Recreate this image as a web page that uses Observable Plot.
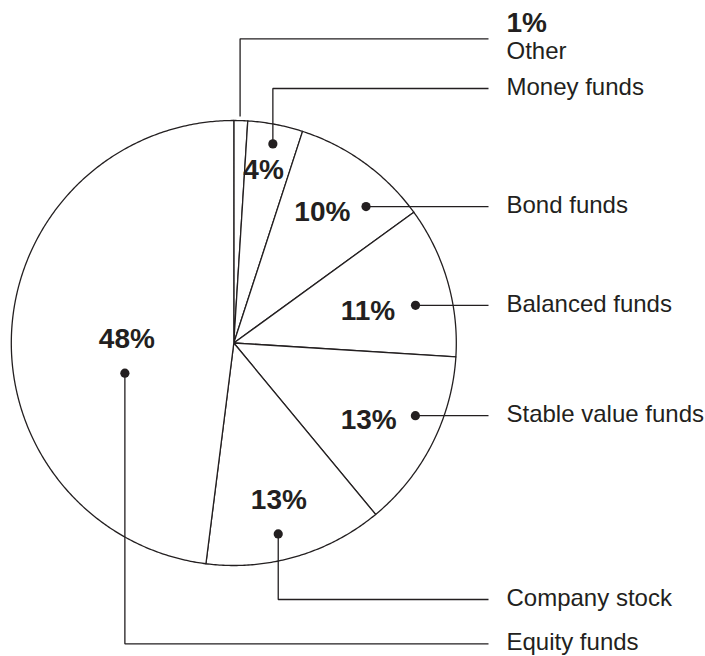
<!DOCTYPE html>
<html>
<head>
<meta charset="utf-8">
<script src="https://cdn.jsdelivr.net/npm/d3@7"></script>
<script src="https://cdn.jsdelivr.net/npm/@observablehq/plot@0.6"></script>
<style>
  html, body { margin: 0; padding: 0; background: #fff; }
  #chart svg { display: block; }
</style>
</head>
<body>
<div id="chart"></div>
<script>
// ---------- data ----------
const categories = ["Other", "Money funds", "Bond funds", "Balanced funds", "Stable value funds", "Company stock", "Equity funds"];
const shares = [1, 4, 10, 11, 13, 13, 48];
const shareLabels = ["1%", "4%", "10%", "11%", "13%", "13%", "48%"];

// ---------- layout (annotation placement, not data) ----------
const INK = "#231f20";
const W = 705, H = 656;
const R = 222.5, CX = 233.3, CY = 342.5;           // pie centre & radius in pixels
const toX = p => (p - CX) / R;                      // pixel -> pie units
const toY = p => (CY - p) / R;
// percentage label placement [angle°, radius fraction] (null = outside)
const labelPolar = [null, [9.8, 0.787], [34.1, 0.71], [76.4, 0.62], [119.6, 0.697], [164, 0.735], [272, 0.481]];
// leader dot placement [angle°, radius fraction]
const dotPolar = [null, [11.1, 0.912], [44.1, 0.854], [78.3, 0.834], [111.8, 0.879], [166.9, 0.881], [254.5, 0.508]];
// text rows (pixel y) for labels whose leader bends; null = same row as the dot
const rowPx = [38.3, 88, null, null, null, 599, 643.3];
const leaderEndX = toX(488), textX = toX(506);

const rad = d => d * Math.PI / 180;
const polar = (a, r) => ({x: r * Math.sin(a), y: r * Math.cos(a)});

// ---------- pie geometry ----------
const arcs = d3.pie().sort(null).value(d => d)(shares);
const slicePts = [];
arcs.forEach((a, i) => {
  slicePts.push({key: categories[i], x: 0, y: 0});
  const n = Math.max(2, Math.ceil((a.endAngle - a.startAngle) / rad(0.5)));
  for (let k = 0; k <= n; k++) {
    const t = a.startAngle + (a.endAngle - a.startAngle) * k / n;
    slicePts.push({key: categories[i], ...polar(t, 1)});
  }
});

// ---------- annotations ----------
const pctTexts = [], dots = [], leaders = [], catTexts = [];
categories.forEach((c, i) => {
  if (labelPolar[i]) pctTexts.push({text: shareLabels[i], ...polar(rad(labelPolar[i][0]), labelPolar[i][1])});
  let start, rowY;
  if (dotPolar[i]) {
    start = polar(rad(dotPolar[i][0]), dotPolar[i][1]);
    dots.push(start);
  } else {
    const mid = (arcs[i].startAngle + arcs[i].endAngle) / 2;
    start = polar(mid, 1.018);
    start.x = Math.sin(mid) * 0.9;
  }
  rowY = rowPx[i] == null ? start.y : toY(rowPx[i]);
  leaders.push({key: c, x: start.x, y: start.y});
  if (Math.abs(rowY - start.y) > 1e-6) leaders.push({key: c, x: start.x, y: rowY});
  leaders.push({key: c, x: leaderEndX, y: rowY});
  if (i === 0) {
    catTexts.push({text: c, x: textX, y: toY(52)});
  } else {
    catTexts.push({text: c, x: textX, y: rowY});
  }
});
const outsidePct = [{text: shareLabels[0], x: textX, y: toY(22.8)}];

const chart = Plot.plot({
  width: W,
  height: H,
  margin: 0,
  x: {domain: [toX(0), toX(W)], axis: null},
  y: {domain: [toY(H), toY(0)], axis: null},
  style: {fontFamily: "'Liberation Sans', Arial, Helvetica, sans-serif", background: "#fff", color: INK},
  marks: [
    Plot.line(slicePts, {x: "x", y: "y", z: "key", curve: "linear-closed", fill: "#fff", stroke: INK, strokeWidth: 1.3, strokeLinejoin: "round"}),
    Plot.line(leaders, {x: "x", y: "y", z: "key", stroke: INK, strokeWidth: 1.3, strokeLinejoin: "miter", strokeLinecap: "butt"}),
    Plot.dot(dots, {x: "x", y: "y", r: 4.6, fill: INK, stroke: "none"}),
    Plot.text(pctTexts, {x: "x", y: "y", text: "text", fontSize: 28, fontWeight: "bold", fill: INK}),
    Plot.text(outsidePct, {x: "x", y: "y", text: "text", textAnchor: "start", fontSize: 28, fontWeight: "bold", fill: INK}),
    Plot.text(catTexts, {x: "x", y: "y", text: "text", textAnchor: "start", fontSize: 24, dy: -1, fill: INK})
  ]
});
document.getElementById("chart").appendChild(chart);
</script>
</body>
</html>
